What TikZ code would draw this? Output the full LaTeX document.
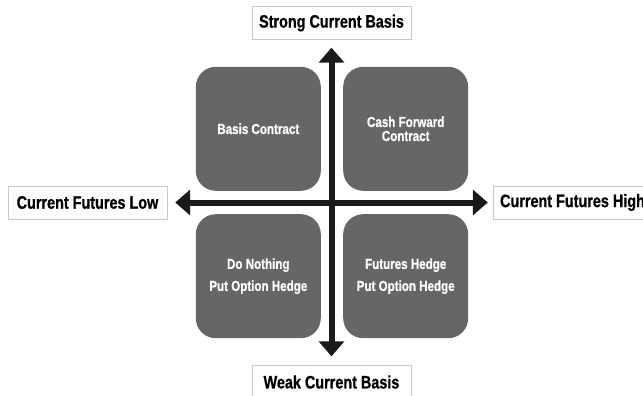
\documentclass[tikz,border=0pt]{standalone}
\usepackage{fontspec}
\setmainfont[FakeStretch=0.8,BoldFeatures={FakeBold=0.8}]{Liberation Sans}
\usetikzlibrary{arrows.meta,positioning}
\definecolor{quad}{HTML}{666666}
\definecolor{ink}{HTML}{1A1A1A}
\definecolor{rim}{HTML}{C8C8C8}
\tikzset{
  qbox/.style={fill=quad,rounded corners=20pt,minimum width=125pt,minimum height=124pt,inner sep=2pt,align=center,text=white,font=\bfseries\fontsize{14.5}{14}\selectfont},
  wbox/.style={qbox,font=\bfseries\fontsize{14.5}{22}\selectfont},
  lbl/.style={draw=rim,fill=white,minimum width=159pt,minimum height=33pt,inner sep=2pt,font=\bfseries\fontsize{18}{20}\selectfont},
  ax/.style={{Triangle[length=15pt,width=25pt]}-{Triangle[length=15pt,width=25pt]},line width=6pt,draw=ink},
}
\begin{document}
\begin{tikzpicture}[x=1pt,y=-1pt,node distance=11pt]
  \clip (0,0) rectangle (643,396);
  \useasboundingbox (0,0) rectangle (643,396);
  \coordinate (o) at (332,202);
  % quadrants
  \node[qbox,above left=11pt and 11pt of o] (bc) {Basis Contract};
  \node[qbox,above right=11pt and 11pt of o] (cf) {Cash Forward\\Contract};
  \node[wbox,below left=12pt and 11pt of o] (dn) {Do Nothing\\Put Option Hedge};
  \node[wbox,below right=12pt and 11pt of o] (fh) {Futures Hedge\\Put Option Hedge};
  % axis labels
  \node[lbl] (up) at (331.5,23) {Strong Current Basis};
  \node[lbl] (dw) at (331.5,382) {Weak Current Basis};
  \node[lbl] (lo) at (87.5,202.5) {Current Futures Low};
  \node[lbl] (hi) at (572.5,202.5) {Current Futures High};
  \draw[ax,shorten <=8pt,shorten >=9pt] (up) -- (dw);
  \draw[ax,shorten <=8pt,shorten >=5pt] (lo) -- (hi);
\end{tikzpicture}
\end{document}
